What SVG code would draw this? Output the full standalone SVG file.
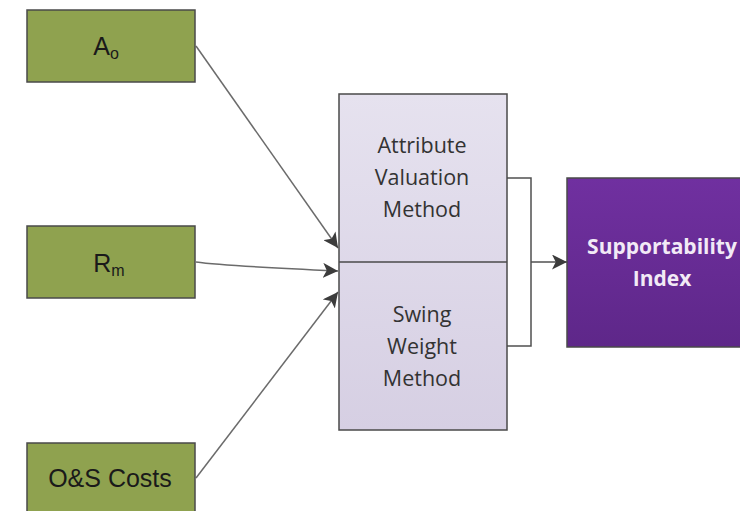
<svg xmlns="http://www.w3.org/2000/svg" width="740" height="511" viewBox="0 0 740 511">
<style>
.g{fill:#8fa24f;stroke:#4a4a4a;stroke-width:1.5}
.t{font-family:"Liberation Sans",Arial,sans-serif;font-size:25px;fill:#1a1a1a;text-anchor:middle}
.m{font-family:"Open Sans","DejaVu Sans",sans-serif;font-size:21.5px;fill:#333;text-anchor:middle}
.p{font-family:"Open Sans","DejaVu Sans",sans-serif;font-size:21px;font-weight:bold;fill:#f2eaf6;text-anchor:middle}
.c{fill:none;stroke:#6b6b6b;stroke-width:1.5}
.o{fill:none;stroke:#505050;stroke-width:1.5}
</style>
<defs>
<linearGradient id="lav" x1="0" y1="0" x2="0" y2="1"><stop offset="0" stop-color="#e6e2ef"/><stop offset="1" stop-color="#d6cfe3"/></linearGradient>
<linearGradient id="pur" x1="0" y1="0" x2="0" y2="1"><stop offset="0" stop-color="#7030a0"/><stop offset="1" stop-color="#5e2789"/></linearGradient>
<marker id="ah" viewBox="0 0 10 10" refX="10" refY="5" markerWidth="15" markerHeight="15" markerUnits="userSpaceOnUse" orient="auto"><path d="M0,0 L10,5 L0,10 L2.5,5 Z" fill="#3c3c3c"/></marker>
</defs>
<g id="connectors">
<path class="c" d="M196,46 L338,248" marker-end="url(#ah)"/>
<path class="c" d="M196,262 Q225,266 338,271" marker-end="url(#ah)"/>
<path class="c" d="M196,478 L338,292" marker-end="url(#ah)"/>
<path class="o" d="M507,178 H531 V346 H507"/>
<path class="o" d="M531,262 H567" marker-end="url(#ah)"/>
</g>
<g id="ao">
<rect class="g" x="27" y="10" width="168" height="72"/>
<text class="t" x="106" y="55">A<tspan font-size="16" dy="4">o</tspan></text>
</g>
<g id="rm">
<rect class="g" x="27" y="226" width="168" height="72"/>
<text class="t" x="109" y="272">R<tspan font-size="16" dy="4">m</tspan></text>
</g>
<g id="os">
<rect class="g" x="27" y="443" width="168" height="80"/>
<text class="t" x="110" y="487">O&amp;S Costs</text>
</g>
<g id="method">
<rect x="339" y="94" width="168" height="336" fill="url(#lav)" stroke="#4a4a4a" stroke-width="1.5"/>
<line x1="339" y1="262" x2="507" y2="262" stroke="#4a4a4a" stroke-width="1.5"/>
<text class="m" x="422" y="153">Attribute</text>
<text class="m" x="422" y="185">Valuation</text>
<text class="m" x="422" y="217">Method</text>
<text class="m" x="422" y="322">Swing</text>
<text class="m" x="422" y="354">Weight</text>
<text class="m" x="422" y="386">Method</text>
</g>
<g id="si">
<rect x="567" y="178" width="190" height="169" fill="url(#pur)" stroke="#4a4a4a" stroke-width="1.5"/>
<text class="p" x="662" y="254">Supportability</text>
<text class="p" x="662" y="286">Index</text>
</g>
</svg>
